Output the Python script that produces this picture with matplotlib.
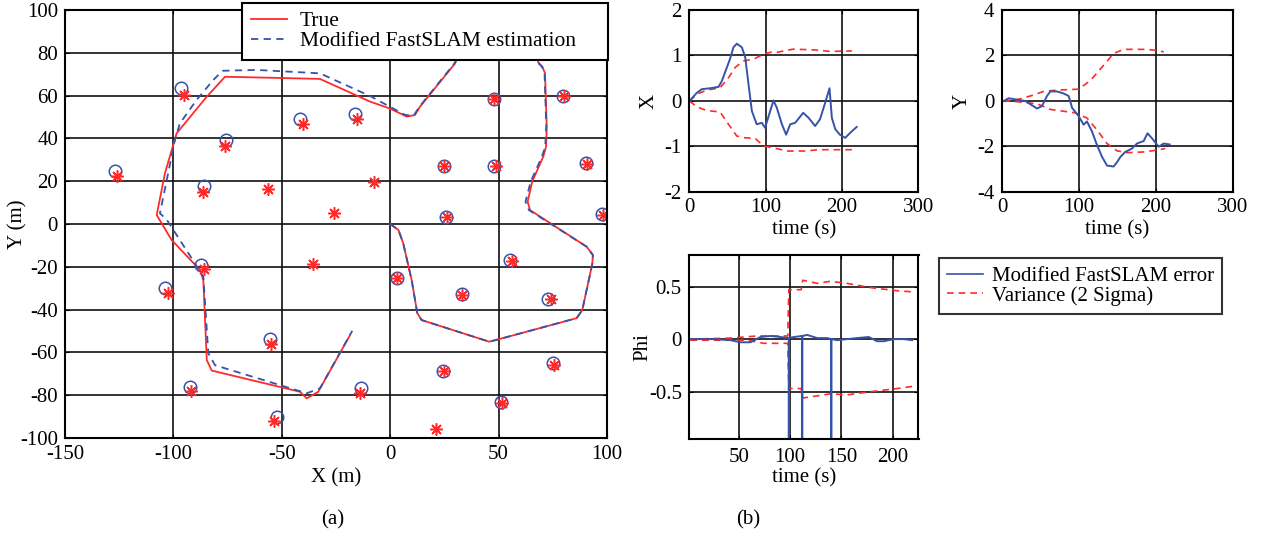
import numpy as np
import matplotlib.pyplot as plt
from matplotlib.lines import Line2D

plt.rcParams['font.family'] = ['Liberation Serif', 'DejaVu Serif']
plt.rcParams['axes.unicode_minus'] = False

RED = '#ff2a2a'
BLUE = '#3553a8'

# ---- (a) map: landmarks ----
lm_true_x = [-126, -95, -76, -86.5, -56.5, -40, -15.5, -7.5, -26, -35.5, -86, -102.5, -55, -92, -53.5,
             -14, 21, 3, 25, 49, 48, 80, 26, 91, 98, 56, 33, 74, 75.5, 51.5, 25]
lm_true_y = [22.5, 60.5, 36.5, 15, 16.3, 46.5, 49.2, 19.7, 5.2, -18.8, -20.8, -32.4, -56, -78, -92,
             -79.2, -96, -25.2, 27, 27, 58.2, 59.6, 3.4, 28, 4.2, -17.5, -33, -35.2, -66, -83.5, -68.5]
lm_est_x = [-126.8, -96.3, -75.6, -86, -41.5, -16.3, -87.2, -103.8, -55.4, -92.3, -52, -13.6, 3,
            25, 48, 48, 79.8, 25.6, 90.3, 97.5, 55.3, 33, 73, 75, 51, 24.2]
lm_est_y = [24.9, 63.4, 39.3, 17.9, 49, 51.5, -19.2, -30, -53.7, -76, -90, -76.7, -25.3,
            27.2, 27.2, 58.4, 59.8, 3.4, 28.4, 4.7, -17, -32.9, -35.2, -64.8, -83, -68.5]

# ---- (a) map: vehicle path waypoints ----
path_true_x = [0, 3.8, 6, 9.9, 12.5, 14.5, 45.7, 49.9, 86, 88.6, 93.2, 93.5, 90.6, 64.5, 63.4, 65.5,
               70.6, 71.9, 72.2, 71.4, 70.2, 68.3, 66, 36, 29.9, 13.7, 11.4, 7.6, 0, -9.3, -32.4,
               -57.7, -76.2, -84.6, -98.5, -103.9, -107.7, -100.8, -87.7, -86.2, -84.6, -82.3,
               -41.6, -38.5, -33.2, -18.5]
path_true_y = [0, -2.8, -9, -26.2, -41.7, -44.9, -55, -53.9, -44, -40.2, -18.7, -14.5, -10.6, 6.5,
               10.4, 19.8, 31.5, 36.1, 45.5, 70.4, 73.5, 75.5, 88, 88, 75, 54.8, 50.9, 50.2, 53.9,
               57.2, 67.8, 68.4, 68.8, 59.5, 42.4, 23.7, 4.2, -7.5, -21.5, -26.2, -63.6, -68.5,
               -78.4, -81.5, -78.4, -51.9]
path_est_x = [0, 3.8, 6, 9.9, 12.5, 14.5, 45.7, 49.9, 86, 88.6, 93.2, 93.5, 90.6, 64, 62.4, 64.8,
              70, 71.5, 72, 71.2, 70, 68, 66, 36, 29.6, 13.5, 10.7, 6.8, -9.3, -32.4, -61.6, -77.3,
              -81.6, -89.3, -97, -99.3, -106.2, -103, -91.6, -86.2, -83.9, -80.8, -38.5, -32.4, -17.5]
path_est_y = [0, -2.8, -9, -26.2, -41.7, -44.9, -55, -53.9, -44, -40.2, -18.7, -14.5, -10.6, 6.5,
              10.4, 19.8, 31.5, 36.1, 45.5, 70.4, 73.5, 75.5, 88, 88, 75, 54.8, 50.5, 51, 59.8,
              70.4, 72, 71.6, 67.3, 58, 47, 39.3, 5, 1.9, -16, -24.6, -60.4, -66, -79.1, -76.8,
              -49.9]

# ---- (b) X error ----
tx_err = [0, 9.6, 16.2, 27, 38, 42.4, 49, 53, 57.6, 62, 68.6, 73, 77.3, 81.7, 88, 94.8, 99, 105.7,
          110, 114.4, 121, 126.6, 132, 138.4, 149, 156, 164.6, 171, 177.7, 183.4, 186.5, 191, 197,
          204, 210.5, 219]
x_err = [0, 0.18, 0.26, 0.28, 0.31, 0.44, 0.74, 0.92, 1.18, 1.26, 1.18, 0.96, 0.37, -0.22, -0.51,
         -0.48, -0.59, -0.22, 0.01, -0.15, -0.51, -0.74, -0.51, -0.48, -0.26, -0.37, -0.55, -0.40,
         -0.04, 0.28, -0.37, -0.62, -0.74, -0.81, -0.70, -0.57]
tx_up = [0, 9.6, 22.7, 40, 51, 60, 70.7, 84, 94.8, 105.7, 114.4, 136, 166.8, 184, 212.7]
x_up = [0, 0.15, 0.24, 0.29, 0.51, 0.74, 0.88, 0.92, 1.01, 1.07, 1.07, 1.14, 1.12, 1.09, 1.10]
tx_lo = [0, 9.6, 22.7, 40, 51, 62, 73, 86, 97, 110, 128, 149, 171, 193, 212.7]
x_lo = [0, -0.13, -0.21, -0.24, -0.51, -0.77, -0.81, -0.82, -0.99, -1.03, -1.10, -1.10, -1.07,
        -1.07, -1.07]

# ---- (b) Y error ----
ty_err = [2, 8.7, 19.5, 30.3, 39, 45.5, 52, 58.4, 62.8, 71.4, 80, 86.6, 91, 99.6, 106, 110.4, 116.9,
          123.4, 130, 136.4, 145, 149.4, 153.7, 160, 168.8, 175.3, 184, 189, 194.8, 203.5, 210, 217.7]
y_err = [0, 0.12, 0.06, 0, -0.19, -0.33, -0.22, 0.22, 0.42, 0.42, 0.33, 0.22, -0.30, -0.67, -1.04,
         -0.90, -1.34, -1.94, -2.46, -2.84, -2.88, -2.69, -2.46, -2.24, -2.09, -1.87, -1.76, -1.42,
         -1.64, -2.01, -1.87, -1.91]
ty_up = [2, 19.5, 36.8, 54, 71.4, 99.6, 114.7, 129.9, 145, 158, 184, 197, 210]
y_up = [0, 0.06, 0.22, 0.42, 0.48, 0.52, 0.90, 1.49, 2.09, 2.27, 2.27, 2.24, 2.16]
ty_lo = [2, 19.5, 45.5, 62.8, 80, 95, 110.4, 123.4, 136.4, 149.4, 162.3, 184, 201, 212]
y_lo = [0, -0.03, -0.12, -0.37, -0.45, -0.52, -0.75, -1.27, -1.87, -2.19, -2.27, -2.24, -2.16, -2.09]

# ---- (b) Phi error ----
tp_err = [2.9, 25.6, 41.9, 51.6, 61.4, 71, 80.8, 90.6, 98.7, 98.7, 98.8, 103.6, 111.7, 111.7, 111.8,
          116.6, 126.3, 136, 140, 140, 140.1, 145.8, 155.5, 165.3, 176.6, 184.7, 191.2, 201, 210.7, 218.8]
p_err = [0, 0, -0.01, -0.03, -0.03, 0.02, 0.03, 0.02, 0.01, -6.28, 0.01, 0.02, 0.03, -6.28, 0.03,
         0.04, 0.01, 0.01, 0, -6.28, 0, -0.01, 0, 0.01, 0.02, -0.02, -0.02, 0, 0, -0.01]
tp_up = [2.9, 41.9, 67.9, 87.3, 97.7, 98.7, 110.7, 112.3, 126.3, 139.3, 155.5, 178.2, 204.2, 218.8]
p_up = [0, 0.01, 0.03, 0.03, 0.03, 0.47, 0.47, 0.56, 0.53, 0.55, 0.53, 0.49, 0.46, 0.45]
tp_lo = [2.9, 41.9, 58, 74.4, 97.7, 98.7, 110.7, 112.3, 126.3, 139.3, 155.5, 178.2, 204.2, 218.8]
p_lo = [-0.01, -0.01, -0.01, -0.04, -0.04, -0.47, -0.47, -0.56, -0.54, -0.52, -0.53, -0.50, -0.47, -0.45]

W, H = 1272, 533
fig = plt.figure(figsize=(W / 100, H / 100), dpi=100)


def box(l, t, r, b):
    return [l / W, 1 - b / H, (r - l) / W, (b - t) / H]


def style(ax, fs, xpad, ypad):
    ax.grid(True, color='#111111', linewidth=1.2)
    ax.set_axisbelow(True)
    for s in ax.spines.values():
        s.set_linewidth(1.5)
    ax.tick_params(direction='in', length=3, top=True, right=True, labelsize=fs)
    ax.tick_params(axis='x', pad=xpad)
    ax.tick_params(axis='y', pad=ypad)


dash = (0, (4, 3))

# (a)
ax = fig.add_axes(box(65, 10, 607, 438))
ax.plot(path_true_x, path_true_y, color=RED, lw=1.3, label='True')
ax.plot(path_est_x, path_est_y, color=BLUE, lw=1.3, ls=dash, label='Modified FastSLAM estimation')
ax.plot(lm_est_x, lm_est_y, 'o', mfc='none', mec=BLUE, ms=9, mew=1.1)
ax.plot(lm_true_x, lm_true_y, ls='none', marker=(8, 2, 0), color=RED, ms=9, mew=1.1)
ax.set_xlim(-150, 100)
ax.set_ylim(-100, 100)
ax.set_xticks(np.arange(-150, 101, 50))
ax.set_yticks(np.arange(-100, 101, 20))
style(ax, 15, 5, 5)
ax.set_xlabel('X (m)', fontsize=15, labelpad=3)
ax.set_ylabel('Y (m)', fontsize=15)
ax.yaxis.set_label_coords(-0.069, 0.5)
leg = ax.legend(loc='upper left', bbox_to_anchor=(242 / W, 1 - 8 / H, (608 - 242) / W, 0.01),
                bbox_transform=fig.transFigure, mode='expand', fontsize=15.5, frameon=True,
                fancybox=False, borderaxespad=0, handlelength=1.7, handletextpad=0.6,
                borderpad=0.4, labelspacing=0.0)
leg.get_frame().set_edgecolor('black')
leg.get_frame().set_linewidth(1.5)
leg.get_frame().set_alpha(1)

# X
ax1 = fig.add_axes(box(689.5, 10, 918.5, 192))
ax1.plot(tx_up, x_up, color=RED, lw=1.2, ls=dash)
ax1.plot(tx_lo, x_lo, color=RED, lw=1.2, ls=dash)
ax1.plot(tx_err, x_err, color=BLUE, lw=1.4)
ax1.set_xlim(0, 300)
ax1.set_ylim(-2, 2)
ax1.set_xticks([0, 100, 200, 300])
ax1.set_yticks([-2, -1, 0, 1, 2])
style(ax1, 15, 4.5, 5.5)
ax1.set_xlabel('time (s)', fontsize=15, labelpad=2)
ax1.set_ylabel('X', fontsize=15)
ax1.yaxis.set_label_coords(-0.133, 0.5)

# Y
ax2 = fig.add_axes(box(1002, 10, 1233, 192))
ax2.plot(ty_up, y_up, color=RED, lw=1.2, ls=dash)
ax2.plot(ty_lo, y_lo, color=RED, lw=1.2, ls=dash)
ax2.plot(ty_err, y_err, color=BLUE, lw=1.4)
ax2.set_xlim(0, 300)
ax2.set_ylim(-4, 4)
ax2.set_xticks([0, 100, 200, 300])
ax2.set_yticks([-4, -2, 0, 2, 4])
style(ax2, 15, 4.5, 5.5)
ax2.set_xlabel('time (s)', fontsize=15, labelpad=2)
ax2.set_ylabel('Y', fontsize=15)
ax2.yaxis.set_label_coords(-0.13, 0.5)

# Phi
ax3 = fig.add_axes(box(689.5, 255, 918.5, 439))
ax3.plot(tp_up, p_up, color=RED, lw=1.2, ls=dash)
ax3.plot(tp_lo, p_lo, color=RED, lw=1.2, ls=dash)
ax3.plot(tp_err, p_err, color=BLUE, lw=1.4)
ax3.set_xlim(2, 225)
ax3.set_ylim(-0.95, 0.8)
ax3.set_xticks([50, 100, 150, 200])
ax3.set_yticks([-0.5, 0, 0.5])
ax3.set_yticklabels(['-0.5', '0', '0.5'])
style(ax3, 15, 6.5, 5.5)
ax3.set_xlabel('time (s)', fontsize=15, labelpad=1)
ax3.set_ylabel('Phi', fontsize=15)
ax3.yaxis.set_label_coords(-0.164, 0.5)

handles = [Line2D([], [], color=BLUE, lw=1.2), Line2D([], [], color=RED, lw=1.2, ls=dash)]
leg2 = fig.legend(handles, ['Modified FastSLAM error', 'Variance (2 Sigma)'], loc='upper left',
                  bbox_to_anchor=(939 / W, 1 - 258 / H), fontsize=15, frameon=True, fancybox=False,
                  borderaxespad=0, handlelength=1.73, handletextpad=0.4, borderpad=0.4,
                  labelspacing=0.0)
leg2.get_frame().set_edgecolor('black')
leg2.get_frame().set_linewidth(1.5)

fig.text(333 / W, 1 - 520 / H, '(a)', ha='center', va='center', fontsize=15)
fig.text(748 / W, 1 - 520 / H, '(b)', ha='center', va='center', fontsize=15)

fig.savefig('out.png', dpi=100)
